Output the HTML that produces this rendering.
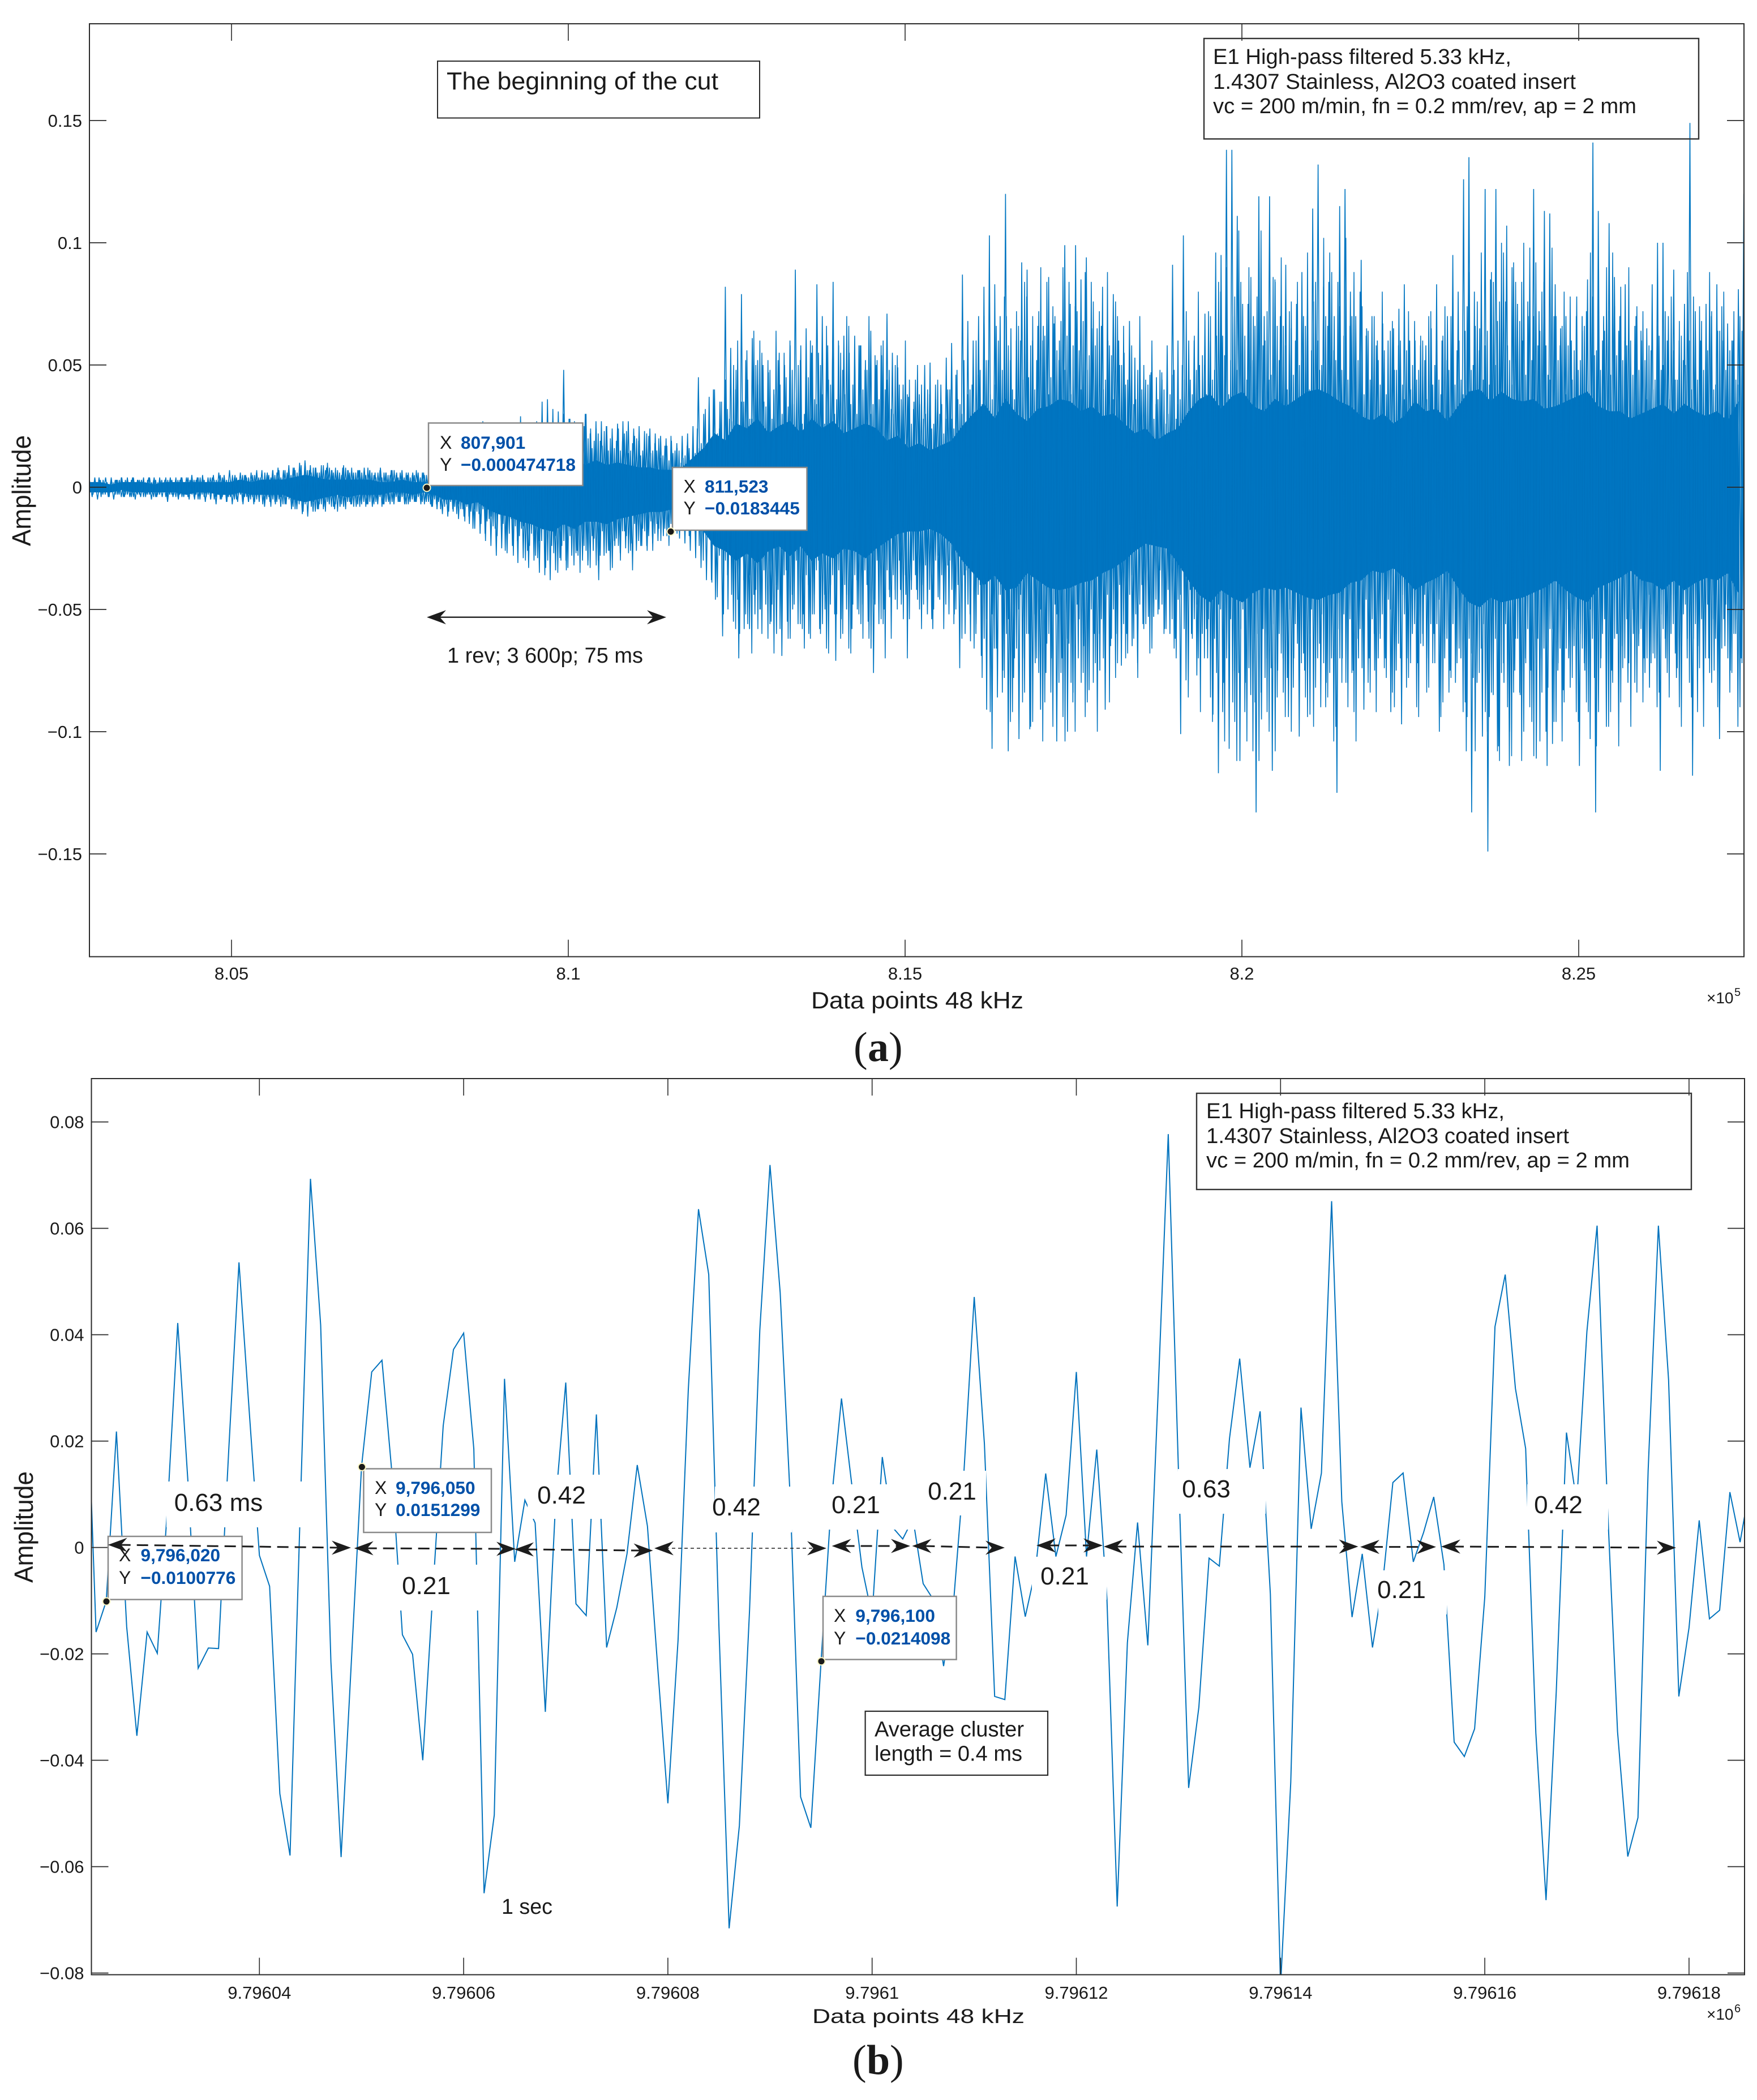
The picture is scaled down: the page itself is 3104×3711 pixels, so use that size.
<!DOCTYPE html>
<html lang="en">
<head>
<meta charset="utf-8">
<title>E1 high-pass filtered acoustic signal</title>
<style>
html,body{margin:0;padding:0;background:#fff;}
svg{display:block;}
text{font-family:"Liberation Sans",Arial,sans-serif;fill:#1a1a1a;}
.val{font-weight:bold;fill:#0050a8;font-size:31.6px;}
.tip{font-size:32px;}
.cap{font-family:"Liberation Serif","Times New Roman",serif;font-size:74px;}
.note{font-size:38px;}
.gap{font-size:44px;}
</style>
</head>
<body>
<svg id="fig" xmlns="http://www.w3.org/2000/svg" width="3104" height="3711" viewBox="0 0 3104 3711">
<rect width="3104" height="3711" fill="#fff"/>
<defs>
<clipPath id="clipA"><rect x="158" y="42" width="2923" height="1649"/></clipPath>
<clipPath id="clipB"><rect x="161.5" y="1906" width="2920.5" height="1584"/></clipPath>
</defs>
<g id="panelA"></g>
<g id="panelB"></g>
</svg>
<script>
// ---------- Panel (a) data: amplitudes in thousandths ----------
const tipStart = 802891;
const tipStep = 80;
const tipHigh = [
3,4,3,4,3,3,4,3,4,3, 3,4,4,3,3,4,3,4,4,5, 4,5,4,5,6,5,7,5,6,5, 6,6,7,6,7,8,7,9,8,10,
11,9,8,7,8,7,6,8,7,6, 7,8,7,6,8,6,7,6,7,5, 6,6,6,7,8,9,10,12,14,16, 18,20,22,27,24,22,26,23,21,24,
29,26,24,27,35,36,32,31,48,28, 27,26,30,24,27,27,25,24,26,27, 27,24,25,23,24,22,21,20,19,18,
21,22,25,45,30,37,40,35,82,57, 48,79,56,61,52,50,47,40,55,50, 60,89,58,65,55,83,70,58,84,60,
62,55,62,58,52,64,50,54,71,55, 49,42,37,35,38,50,51,42,42,53, 59,48,87,68,60,70,82,103,83,70,
120,65,60,92,89,60,66,66,86,67, 60,99,75,99,85,94,65,65,82,60, 79,60,55,68,53,44,44,47,45,47,
58,91,60,103,60,60,50,71,60,96, 95,138,138,111,75,75,70,119,70,119, 85,70,91,65,75,88,70,114,132,82,
84,70,115,122,80,70,93,65,70,60, 67,60,65,73,83,60,60,58,58,65, 83,60,70,95,80,126,135,80,65,122,
85,122,80,107,90,75,60,70,122,72, 113,112,83,65,70,60,78,70,85,141, 113,70,108,86,70,83,60,70,60,65,
83,100,100,70,89,60,75,149,72,60, 75,70,83,60,67,60,81,120];
const tipLow = [
4,5,3,4,5,3,4,4,5,4, 3,5,4,4,6,4,5,4,5,5, 5,6,5,7,5,6,7,6,7,6, 7,6,8,6,7,8,7,9,9,11,
12,10,9,8,7,9,8,8,7,8, 7,7,8,7,7,6,7,6,7,6, 6,7,6,8,9,11,12,10,13,12, 15,17,19,22,24,28,25,27,24,31,
29,33,30,35,36,38,34,30,34,28, 26,30,32,26,38,28,26,24,27,25, 23,26,24,26,23,22,20,19,18,21,
23,26,29,33,38,39,45,61,50,55, 70,58,58,52,50,48,55,60,69,55, 50,56,52,60,52,58,50,48,71,54,
50,58,50,48,55,76,56,50,45,42, 42,44,38,42,40,52,58,45,42,52, 52,74,60,63,60,69,91,107,86,75,
108,78,103,70,99,72,91,76,70,104, 70,100,88,70,65,83,60,75,91,65, 60,73,60,65,72,56,53,53,50,58,
60,62,101,79,60,77,60,70,93,117, 80,107,75,112,80,85,133,95,70,116, 75,70,94,70,102,75,93,70,90,80,
70,125,70,80,75,70,91,70,75,60, 70,92,75,97,70,60,72,65,70,60, 100,70,75,80,70,108,133,80,102,149,
85,106,80,114,75,85,70,75,111,70, 114,105,75,83,70,65,114,75,103,133, 70,98,75,60,65,80,60,65,70,82,
70,116,70,60,78,65,70,118,65,82, 70,75,103,65,75,60,70,104];
const midStart = 802914;
const midStep = 60;
const midHigh = [
2,3,4,3,2,4,3,3,2,4, 3,2,3,4,3,2,3,4,2,3, 3,4,3,2,4,3,3,4,3,3, 4,3,5,4,3,5,4,3,5,4,
5,7,4,6,5,7,6,4,7,6, 8,6,9,10,7,8,6,9,7,8, 6,7,5,8,6,4,7,6,5,7, 5,6,4,6,5,7,4,5,6,4,
5,4,6,5,7,6,8,7,9,8, 10,12,9,14,17,11,16,13,18,15, 19,14,22,17,25,15,20,23,16,21,
24,17,21,28,18,25,20,30,22,19, 22,17,25,20,16,24,19,23,15,21, 19,15,22,14,18,20,13,17,21,15,
15,12,17,11,14,16,10,13,16,18, 24,18,32,27,40,22,35,44,28,50, 60,35,52,28,64,42,55,33,48,38,
52,30,45,58,34,50,26,44,60,36, 55,38,66,42,30,58,48,70,34,52, 58,40,48,30,54,36,60,44,32,50,
42,30,38,26,44,34,28,40,24,36, 30,22,40,28,46,34,52,38,42,60, 48,70,52,36,66,44,78,58,40,72,
60,84,45,70,52,90,62,38,74,56, 68,48,84,58,72,40,88,54,76,50, 66,44,58,36,70,50,42,60,34,48,
40,30,46,28,36,44,26,38,48,34, 50,72,44,62,80,54,38,70,48,84, 62,90,52,78,105,60,44,86,66,94,
58,72,46,84,52,66,40,76,60,50, 70,96,56,84,48,102,66,88,52,74, 62,44,70,52,80,38,64,48,58,42,
56,40,68,48,60,36,72,50,44,62, 52,70,42,60,38,74,48,66,56,44, 64,88,50,76,96,58,42,84,68,100,
76,52,92,64,84,46,98,70,58,80, 58,44,70,52,66,38,78,56,48,64, 72,96,54,82,60,90,46,74,64,52,
58,40,66,48,72,36,56,44,62,50, 60,78,44,68,52,88,40,64,74,48, 56,72,42,64,80,50,60,44,70,90];
const midLow = [
3,2,4,3,4,2,3,4,3,2, 4,3,2,4,3,4,3,2,4,3, 3,4,4,3,2,4,5,3,4,3, 5,3,4,6,4,5,3,6,4,5,
6,4,7,5,8,6,5,7,4,6, 9,7,10,6,8,10,7,9,6,8, 7,5,8,6,7,5,8,6,7,5, 6,4,7,5,6,4,6,5,7,5,
6,5,7,6,8,7,9,8,10,9, 11,9,14,12,17,10,15,19,13,16, 20,16,26,19,28,22,17,30,24,20,
29,22,33,18,27,35,24,30,20,32, 28,19,26,33,21,30,18,27,34,22, 24,18,20,26,15,22,17,24,14,19,
17,13,20,15,12,18,14,16,12,19, 24,30,20,38,46,28,52,36,44,58, 60,38,56,68,42,50,34,62,48,40,
58,36,62,44,30,56,66,40,52,34, 60,44,68,36,52,62,40,66,48,38, 56,34,62,46,30,54,70,42,36,50,
48,36,54,30,46,58,32,42,50,28, 36,48,30,56,40,62,34,52,66,44, 78,54,92,66,44,84,60,96,70,50,
88,60,98,52,76,104,64,84,48,80, 94,62,80,100,54,76,88,50,72,60, 70,44,62,78,40,56,68,36,52,48,
58,38,66,46,34,60,42,54,70,44, 58,86,62,48,92,70,54,96,76,50, 104,66,88,112,58,92,74,108,60,84,
78,100,56,86,68,94,50,82,64,72, 86,60,98,70,52,90,76,104,58,80, 80,54,92,62,74,46,84,60,70,52,
78,50,90,64,44,82,72,56,94,60, 84,56,72,46,88,62,78,50,66,92, 94,68,108,76,56,100,84,62,112,72,
90,110,62,84,100,58,96,72,104,66, 82,58,96,66,88,50,78,92,60,72, 92,62,106,74,54,98,80,60,88,70,
72,50,84,58,76,44,68,90,52,62, 86,56,74,98,48,80,62,92,54,70, 76,54,90,66,48,84,60,98,72,80];
const bodyStep = 160;
const bodyHigh = [
2,2,1,2,2,2,1,2,2,2,2,2,2,2,3,2,3,3, 3,4,5,4,3,3,3,3, 3,2,2,3,2,2, 2,3,3,4,5,6,7,8,
10,9,12,11,10,12,9,11,9,10, 9,8,8,7,7,8, 12,16,22,19,26, 24,28,22,25,27,22, 28,24,27,22,24,26,
24,19,21,16,18,15,17,19, 25,30,34,28,36,30,27,32,33,36, 35,31,33,29,30,26,22,24,19,22,
24,31,36,38,32,37,39,33,31,36, 33,36,39,40,38,35,33,29,27,30, 26,29,35,31,32,27,33,39,40,35,
39,36,35,36,32,33,35,37,39,33, 31,31,28,30,32,34,30,34,31,29,31,27,35];
const bodyLow = [
2,2,2,1,2,2,2,2,2,3,2,2,3,3,2,3,3,3, 3,5,6,5,4,3,4,3, 3,3,2,2,3,2, 3,5,5,7,6,9,11,12,
14,15,17,18,15,17,14,14,15,13, 12,11,10,10,9,10, 14,18,24,26,30, 27,31,26,24,28,24, 30,27,29,25,26,29,
25,22,19,18,18,17,19,23, 30,35,40,36,42,41,35,38,41,42, 41,39,38,35,33,30,26,23,24,25,
31,38,44,47,42,45,47,43,41,42, 41,43,45,46,44,43,39,38,34,35, 33,37,42,39,37,34,41,47,49,45,
47,46,45,43,41,38,42,45,47,41, 39,37,34,38,39,42,38,42,39,37,38,35,43];
const xTicksA = [805000,810000,815000,820000,825000];
const xLabelsA = ['8.05','8.1','8.15','8.2','8.25'];
const yTicksA = [0.15,0.1,0.05,0,-0.05,-0.1,-0.15];
const yLabelsA = ['0.15','0.1','0.05','0','\u22120.05','\u22120.1','\u22120.15'];
// ---------- Panel (b) data: sample number offset from 9,796,000 and amplitude ----------
const clusterFirstSample = 23;
const clusterAmp = [
.0382,-.0159,-.0101,.0218,-.0149,-.0354,-.0159,-.0199,.0074,.0422,.0124,-.0227,-.0189,-.019,.0185,.0536,.0256,
-.0015,-.0073,-.0463,-.0579,.0074,.0693,.0418,-.0215,-.0582,-.0215,.0152,.033,.0352,.0135,-.0164,-.0201,-.04,-.0078,.0229,.0372,.0403,.0185,-.065,-.0503,.0317,
-.0027,.0089,.0046,-.0309,.0084,.031,-.0106,-.0128,.025,-.0188,-.0113,-.0012,.0155,.004,-.0225,
-.0481,-.0174,.0297,.0636,.0513,-.0149,-.0716,-.0523,-.0118,.0408,.0719,.0479,.0084,-.0469,-.0527,-.0215,.0084,.028,.012,-.0037,
-.0129,.017,.0038,.0016,.0054,-.0068,-.0098,-.0223,-.0098,.0145,.0471,.0195,-.028,-.0286,-.0017,-.013,-.0043,.0139,-.0017,.0061,
.033,-.0017,.0184,-.0098,-.0675,-.0179,.0047,-.0184,.0286,.0777,.0145,-.0452,-.03,-.002,-.0035,.0205,.0355,.015,.0256,-.0088,
-.0825,-.0442,.0263,.0035,.014,.0651,.0086,-.0131,-.0012,-.0188,-.0068,.0122,.014,-.0027,.0028,.0095,-.0032,-.0366,-.0393,-.0341,
-.0093,.0415,.0513,.0299,.0186,-.0349,-.0663,-.027,.0216,.0084,.0406,.0605,.0084,-.0346,-.0581,-.0508,.0145,.0605,.0315,-.028,
-.0151,.0051,-.0134,-.0118,.0104,.001,.012];
const xTicksB = [40,60,80,100,120,140,160,180];
const xLabelsB = ['9.79604','9.79606','9.79608','9.7961','9.79612','9.79614','9.79616','9.79618'];
const yTicksB = [0.08,0.06,0.04,0.02,0,-0.02,-0.04,-0.06,-0.08];
const yLabelsB = ['0.08','0.06','0.04','0.02','0','\u22120.02','\u22120.04','\u22120.06','\u22120.08'];

// ---------- Axis functions ----------
function xA(p){return 409+(p-805000)*0.119;}
function yA(v){return 861-4320*v;}
function xB(i){return 458.3+18.04*(i-40);}
function yB(v){return 2734.6-9400*v;}

const NS='http://www.w3.org/2000/svg';
function mk(parent,tag,attrs,txt){
  const e=document.createElementNS(NS,tag);
  for(const k in attrs)e.setAttribute(k,attrs[k]);
  if(txt!==undefined)e.textContent=txt;
  parent.appendChild(e);
  return e;
}
function label(parent,name,x,y,s,attrs){
  const e=mk(parent,'text',Object.assign({x:x,y:y},attrs||{}),s);
  
  
  return e;
}
function box(parent,name,x,y,w,h,stroke,sw,fill){
  const e=mk(parent,'rect',{x:x,y:y,width:w,height:h,fill:fill||'#fff',stroke:stroke,'stroke-width':sw});
  
  
  return e;
}
function frame(parent,name,l,t,r,b,xs,ys,xFn,yFn,xLab,yLab,fs,xBase,yEnd){
  const g=mk(parent,'g',{stroke:'#2a2a2a',fill:'none'});
  
  
  const rect=mk(g,'rect',{x:l,y:t,width:r-l,height:b-t,'stroke-width':2});
  
  
  xs.forEach(function(v,k){
    const px=xFn(v);
    const tickTop=mk(g,'line',{x1:px,x2:px,y1:t,y2:t+30,'stroke-width':1.6});
    
    
    const tickBottom=mk(g,'line',{x1:px,x2:px,y1:b,y2:b-30,'stroke-width':1.6});
    
    
    label(parent,'x-tick-label',px,xBase,xLab[k],{'text-anchor':'middle','font-size':fs});
  });
  ys.forEach(function(v,k){
    const py=yFn(v);
    const tickLeft=mk(g,'line',{x1:l,x2:l+30,y1:py,y2:py,'stroke-width':1.8});
    
    
    const tickRight=mk(g,'line',{x1:r,x2:r-30,y1:py,y2:py,'stroke-width':1.8});
    
    
    label(parent,'y-tick-label',yEnd,py+11,yLab[k],{'text-anchor':'end','font-size':fs});
  });
}
function head(parent,x,y,dir,L,h){
  const e=mk(parent,'polygon',{points:
    x+','+y+' '+(x+dir*L)+','+(y-h)+' '+(x+dir*L*0.68)+','+y+' '+(x+dir*L)+','+(y+h),fill:'#1c1c1c'});
  
  
}
function arrow(parent,name,x1,y1,x2,y2,dash,sw){
  const g=mk(parent,'g',{});
  
  
  const ln=mk(g,'line',{x1:x1+20,y1:y1,x2:x2-20,y2:y2,stroke:'#1c1c1c','stroke-width':sw});
  if(dash)ln.setAttribute('stroke-dasharray',dash);
  head(g,x1,y1,1,34,12.5);
  head(g,x2,y2,-1,34,12.5);
}
function datatip(parent,name,bx,by,bw,bh,tx,vx,y1,y2,xv,yv,mx,my){
  const g=mk(parent,'g',{});
  
  
  box(g,name+'-box',bx,by,bw,bh,'#8a8a8a',2.5);
  label(g,name+'-x-key',tx,y1,'X',{class:'tip'});
  label(g,name+'-x-value',vx,y1,xv,{class:'val'});
  label(g,name+'-y-key',tx,y2,'Y',{class:'tip'});
  label(g,name+'-y-value',vx,y2,yv,{class:'val'});
  const dot=mk(g,'circle',{cx:mx,cy:my,r:6.5,fill:'#1a1a1a',stroke:'#fbf6c4','stroke-width':2});
  
  
}
function zigzag(parent,name,high,low,start,step,color,width){
  let pts=[];
  high.forEach(function(v,i){
    pts.push(xA(start+i*step).toFixed(1)+','+yA(v/1000).toFixed(1));
    pts.push(xA(start+i*step+step/2).toFixed(1)+','+yA(-low[i]/1000).toFixed(1));
  });
  const line=mk(parent,'polyline',{points:pts.join(' '),fill:'none',stroke:color,'stroke-width':width});
  
  
}

// ---------- Panel (a) ----------
const A=document.getElementById('panelA');
const clipA=mk(A,'g',{'clip-path':'url(#clipA)'});


let bodyPts=[];
bodyHigh.forEach(function(v,j){bodyPts.push(xA(tipStart+j*bodyStep).toFixed(1)+','+yA(v/1000).toFixed(1));});
for(let j=bodyLow.length-1;j>=0;j--){bodyPts.push(xA(tipStart+j*bodyStep).toFixed(1)+','+yA(-bodyLow[j]/1000).toFixed(1));}
const bodyPoly=mk(clipA,'polygon',{points:bodyPts.join(' '),fill:'#0072BD',stroke:'#0072BD','stroke-width':1});


zigzag(clipA,'signal-mid-hairs',midHigh,midLow,midStart,midStep,'#0074c0',1.5);
zigzag(clipA,'signal-mid-hairs-offset',midHigh,midLow,midStart+330,midStep,'#0074c0',1.5);
zigzag(clipA,'signal-line-a',tipHigh,tipLow,tipStart,tipStep,'#0076c2',1.6);
frame(A,'axes-a',158,42,3081,1690.6,xTicksA,yTicksA,xA,yA,xLabelsA,yLabelsA,31,1731,145);
label(A,'y-axis-title-a',0,0,'Amplitude',{transform:'translate(54,965) rotate(-90)','font-size':46,textLength:196,lengthAdjust:'spacingAndGlyphs'});
label(A,'x-axis-title-a',1433,1782,'Data points 48 kHz',{'font-size':42,textLength:375,lengthAdjust:'spacingAndGlyphs'});
label(A,'x-exponent-a',3015,1773,'\u00d710',{'font-size':28});
label(A,'x-exponent-power-a',3064,1760,'5',{'font-size':20});
label(A,'caption-a',1508,1875,'(',{class:'cap'});
label(A,'caption-a-letter',1533,1875,'a',{class:'cap','font-weight':'bold'});
label(A,'caption-a-close',1570,1875,')',{class:'cap'});
box(A,'title-annotation-box',773,108,569,100.5,'#2a2a2a',2);
label(A,'title-annotation',789,158,'The beginning of the cut',{'font-size':44,textLength:480,lengthAdjust:'spacingAndGlyphs'});
box(A,'conditions-box-a',2127,68,874,177.5,'#333',2.4,'none');
label(A,'conditions-line-1-a',2143,113,'E1 High-pass filtered 5.33 kHz,',{class:'note',textLength:527,lengthAdjust:'spacingAndGlyphs'});
label(A,'conditions-line-2-a',2143,157,'1.4307 Stainless, Al2O3 coated insert',{class:'note',textLength:641,lengthAdjust:'spacingAndGlyphs'});
label(A,'conditions-line-3-a',2143,200,'vc = 200 m/min, fn = 0.2 mm/rev, ap = 2 mm',{class:'note',textLength:748,lengthAdjust:'spacingAndGlyphs'});
datatip(A,'datatip-cut-start',757,747.5,272.5,110.5,777,814,793,832,'807,901','\u22120.000474718',754,862);
datatip(A,'datatip-one-rev',1188,826,237.5,111,1207.5,1245,870.5,909,'811,523','\u22120.0183445',1185,939.4);
arrow(A,'revolution-arrow',754,1090.7,1177,1090.7,null,2.4);
label(A,'revolution-label',790,1171,'1 rev; 3 600p; 75 ms',{class:'note',textLength:346,lengthAdjust:'spacingAndGlyphs'});

// ---------- Panel (b) ----------
const B=document.getElementById('panelB');
const clipB=mk(B,'g',{'clip-path':'url(#clipB)'});


const linePts=clusterAmp.map(function(v,k){return xB(clusterFirstSample+k).toFixed(1)+','+yB(v).toFixed(1);});
const bLine=mk(clipB,'polyline',{points:linePts.join(' '),fill:'none',stroke:'#0072BD','stroke-width':2,'stroke-linejoin':'miter'});


function gapLabel(name,rx,ry,rw,rh,s,cx,base){
  const r=mk(B,'rect',{x:rx,y:ry,width:rw,height:rh,fill:'#fff'});
  
  
  label(B,name,cx,base,s,{class:'gap','text-anchor':'middle'});
}
gapLabel('gap-label-063-ms',294,2618,244,81,'0.63 ms',386,2670);
gapLabel('gap-label-021-a',698,2765,151,81,'0.21',753,2817);
gapLabel('gap-label-042-a',932,2606,136,78,'0.42',992,2657);
gapLabel('gap-label-042-b',1263,2627,136,81,'0.42',1301,2678);
gapLabel('gap-label-021-b',1464,2623,153,80,'0.21',1512,2674);
gapLabel('gap-label-021-c',1620,2599,122,79,'0.21',1682,2650);
gapLabel('gap-label-021-d',1823,2751,132,76,'0.21',1881,2800);
gapLabel('gap-label-063',2081,2596,155,79,'0.63',2131,2646);
gapLabel('gap-label-021-e',2435,2775,121,78,'0.21',2476,2824);
gapLabel('gap-label-042-c',2698,2623,143,80,'0.42',2753,2674);
frame(B,'axes-b',161.5,1906,3082,3489.6,xTicksB,yTicksB,xB,yB,xLabelsB,yLabelsB,31,3532,148.5);
label(B,'y-axis-title-b',0,0,'Amplitude',{transform:'translate(58,2797) rotate(-90)','font-size':46,textLength:197,lengthAdjust:'spacingAndGlyphs'});
label(B,'x-axis-title-b',1435,3575,'Data points 48 kHz',{'font-size':35,textLength:375,lengthAdjust:'spacingAndGlyphs'});
label(B,'x-exponent-b',3015,3569,'\u00d710',{'font-size':28});
label(B,'x-exponent-power-b',3064,3556,'6',{'font-size':20});
label(B,'caption-b',1506,3665,'(',{class:'cap'});
label(B,'caption-b-letter',1531,3665,'b',{class:'cap','font-weight':'bold'});
label(B,'caption-b-close',1572,3665,')',{class:'cap'});
box(B,'conditions-box-b',2114,1932,874,170,'#333',2.4,'none');
label(B,'conditions-line-1-b',2131,1976,'E1 High-pass filtered 5.33 kHz,',{class:'note',textLength:527,lengthAdjust:'spacingAndGlyphs'});
label(B,'conditions-line-2-b',2131,2020,'1.4307 Stainless, Al2O3 coated insert',{class:'note',textLength:641,lengthAdjust:'spacingAndGlyphs'});
label(B,'conditions-line-3-b',2131,2063,'vc = 200 m/min, fn = 0.2 mm/rev, ap = 2 mm',{class:'note',textLength:748,lengthAdjust:'spacingAndGlyphs'});
box(B,'average-cluster-box',1528.6,3024,322.4,113,'#2a2a2a',2.2);
label(B,'average-cluster-line-1',1545,3068.6,'Average cluster',{class:'note',textLength:264,lengthAdjust:'spacingAndGlyphs'});
label(B,'average-cluster-line-2',1545,3111.5,'length = 0.4 ms',{class:'note',textLength:261,lengthAdjust:'spacingAndGlyphs'});
label(B,'one-second-note',886,3382,'1 sec',{class:'note',textLength:90,lengthAdjust:'spacingAndGlyphs'});
datatip(B,'datatip-9796020',191,2715,236.6,111.6,210,248.5,2759,2799,'9,796,020','\u22120.0100776',188,2830);
datatip(B,'datatip-9796050',642.4,2595.5,225.6,112.5,662,699,2640,2679,'9,796,050','0.0151299',639.4,2592.4);
datatip(B,'datatip-9796100',1454,2821,235.6,111.6,1473,1511.4,2866,2906,'9,796,100','\u22120.0214098',1451,2935.7);
const DASH='20 11';
arrow(B,'cluster-arrow-1',190.7,2730,620,2735,DASH,3);
arrow(B,'cluster-arrow-2',625.7,2736,911,2737,DASH,3);
arrow(B,'cluster-arrow-3',909,2738,1153.5,2740,DASH,3);
arrow(B,'cluster-arrow-4',1156,2736,1460,2736,'6 5',1.6);
arrow(B,'cluster-arrow-5',1469.6,2732,1608,2732,DASH,3);
arrow(B,'cluster-arrow-6',1611.4,2732,1775,2735,DASH,3);
arrow(B,'cluster-arrow-7',1831,2731,1948,2731,DASH,3);
arrow(B,'cluster-arrow-8',1950,2733,2399.5,2733,DASH,3);
arrow(B,'cluster-arrow-9',2403,2733.6,2537,2733.6,DASH,3);
arrow(B,'cluster-arrow-10',2546,2733,2961,2735,DASH,3);
</script>
</body>
</html>
